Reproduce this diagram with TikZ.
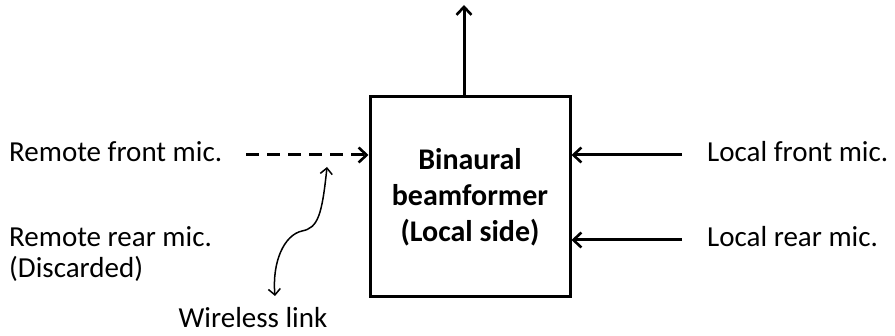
\documentclass[tikz,border=0pt]{standalone}
\usepackage{fontspec}
\setmainfont{Carlito}
\usetikzlibrary{arrows.meta}
\tikzset{
  lbl/.style={font=\fontsize{29}{34}\selectfont, inner sep=0pt, anchor=base west},
  arr/.style={line width=3pt, -{Straight Barb[length=8pt,width=15pt,line width=2.6pt]}},
  blk/.style={draw, line width=3pt, minimum width=200pt, minimum height=200pt, align=center,
    font=\bfseries\fontsize{30}{36}\selectfont}
}
\begin{document}
\begin{tikzpicture}[x=1pt,y=-1pt]
\useasboundingbox (0,0) rectangle (895,336);
\node[blk] (bf) at (470,197) {Binaural\\beamformer\\(Local side)};
\coordinate (out) at (464,5);
\draw[arr] (bf.north -| out) -- (out);

\node[lbl] (rf) at (9,162) {Remote front mic.};
\node[lbl] (rr) at (9,247) {Remote rear mic.};
\node[lbl] (dc) at (9,278) {(Discarded)};
\node[lbl, anchor=base] (wl) at (253,328) {Wireless link};
\node[lbl] (lf) at (707,162) {Local front mic.};
\node[lbl] (lr) at (707,247) {Local rear mic.};

\coordinate (ds) at (246,155);
\coordinate (lfs) at (682,155);
\coordinate (lrs) at (682,240);
\draw[arr, dash pattern=on 13pt off 8pt] (ds) -- (bf.west |- ds);
\draw[arr] (lfs) -- (bf.east |- lfs);
\draw[arr] (lrs) -- (bf.east |- lrs);

\coordinate (wa) at (327,167);
\coordinate (wb) at (275,296);
\draw[line width=1.5pt, {Straight Barb[length=6pt,width=12pt,line width=1.5pt]}-{Straight Barb[length=6pt,width=12pt,line width=1.5pt]}]
  (wa) .. controls (322,215) and (318,228) .. (302,231) .. controls (284,235) and (272,262) .. (wb);
\end{tikzpicture}
\end{document}
